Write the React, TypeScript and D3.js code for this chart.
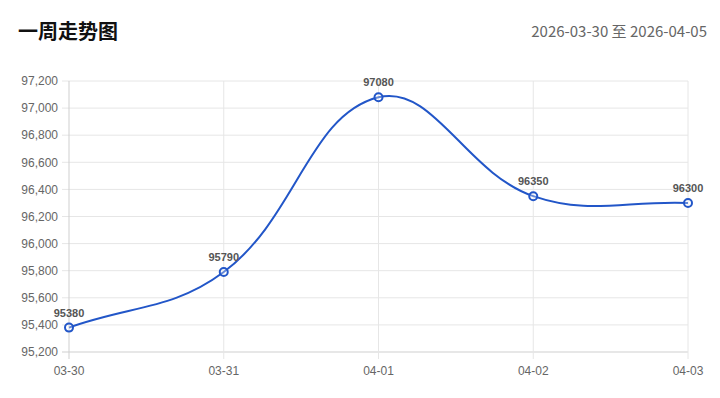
import React from 'react';
import * as d3 from 'd3';

const categories = ['03-30', '03-31', '04-01', '04-02', '04-03'];
const values = [95380, 95790, 97080, 96350, 96300];
const yTicks = [95200, 95400, 95600, 95800, 96000, 96200, 96400, 96600, 96800, 97000, 97200];
const title = '一周走势图';
const rangeText = '2026-03-30 至 2026-04-05';

const W = 720;
const H = 398;
const margin = { top: 81, right: 32, bottom: 46, left: 69 };
const font = '"Liberation Sans", Arial, sans-serif';

// spline like Chart.js (tension 0.4)
function splinePath(pts: [number, number][], t = 0.4) {
  const p = d3.path();
  const cps = pts.map((cur, i) => {
    const prev = pts[i - 1] || cur;
    const next = pts[i + 1] || cur;
    const d01 = Math.hypot(cur[0] - prev[0], cur[1] - prev[1]);
    const d12 = Math.hypot(next[0] - cur[0], next[1] - cur[1]);
    let s01 = d01 / (d01 + d12);
    let s12 = d12 / (d01 + d12);
    s01 = isNaN(s01) ? 0 : s01;
    s12 = isNaN(s12) ? 0 : s12;
    const fa = t * s01;
    const fb = t * s12;
    return {
      prev: [cur[0] - fa * (next[0] - prev[0]), cur[1] - fa * (next[1] - prev[1])],
      next: [cur[0] + fb * (next[0] - prev[0]), cur[1] + fb * (next[1] - prev[1])],
    };
  });
  pts.forEach((pt, i) => {
    if (i === 0) p.moveTo(pt[0], pt[1]);
    else {
      const a = cps[i - 1].next;
      const b = cps[i].prev;
      p.bezierCurveTo(a[0], a[1], b[0], b[1], pt[0], pt[1]);
    }
  });
  return p.toString();
}

export default function App() {
  const innerW = W - margin.left - margin.right;
  const innerH = H - margin.top - margin.bottom;
  const x = d3.scalePoint<string>().domain(categories).range([0, innerW]);
  const y = d3.scaleLinear().domain([95200, 97200]).range([innerH, 0]);
  const pts: [number, number][] = categories.map((c, i) => [x(c) ?? 0, y(values[i])]);
  const lineColor = '#2256c8';

  return (
    <svg width={W} height={H} style={{ position: 'absolute', left: 0, top: 0, background: '#fff' }}>
      <text x={18} y={39} fontSize={20} fontWeight={700} fill="#111" fontFamily='"Noto Sans CJK SC", sans-serif'>
        {title}
      </text>
      <text x={707} y={37} textAnchor="end" fontSize={15} fill="#666" fontFamily='"Noto Sans CJK SC", sans-serif'>
        {rangeText}
      </text>
      <g transform={`translate(${margin.left},${margin.top})`}>
        {yTicks.map((t) => (
          <g key={t}>
            <line x1={-7} x2={innerW} y1={y(t)} y2={y(t)} stroke={t === 95200 ? '#cfcfcf' : '#e6e6e6'} strokeWidth={1} />
            <text x={-11} y={y(t)} dy="0.35em" textAnchor="end" fontSize={12} fill="#666" fontFamily={font}>
              {d3.format(',')(t)}
            </text>
          </g>
        ))}
        {categories.map((c, i) => (
          <g key={c}>
            <line x1={x(c)} x2={x(c)} y1={0} y2={innerH + 7} stroke={i === 0 ? '#cfcfcf' : '#e6e6e6'} strokeWidth={1} />
            <text x={x(c)} y={innerH + 23} textAnchor="middle" fontSize={12} fill="#666" fontFamily={font}>
              {c}
            </text>
          </g>
        ))}
        <path d={splinePath(pts)} fill="none" stroke={lineColor} strokeWidth={2} />
        {pts.map((p, i) => (
          <g key={i}>
            <circle cx={p[0]} cy={p[1]} r={4} fill="rgba(255,255,255,0.3)" stroke={lineColor} strokeWidth={2} />
            <text x={p[0]} y={p[1] - 11} textAnchor="middle" fontSize={11} fontWeight={700} fill="#555" fontFamily={font}>
              {values[i]}
            </text>
          </g>
        ))}
      </g>
    </svg>
  );
}
